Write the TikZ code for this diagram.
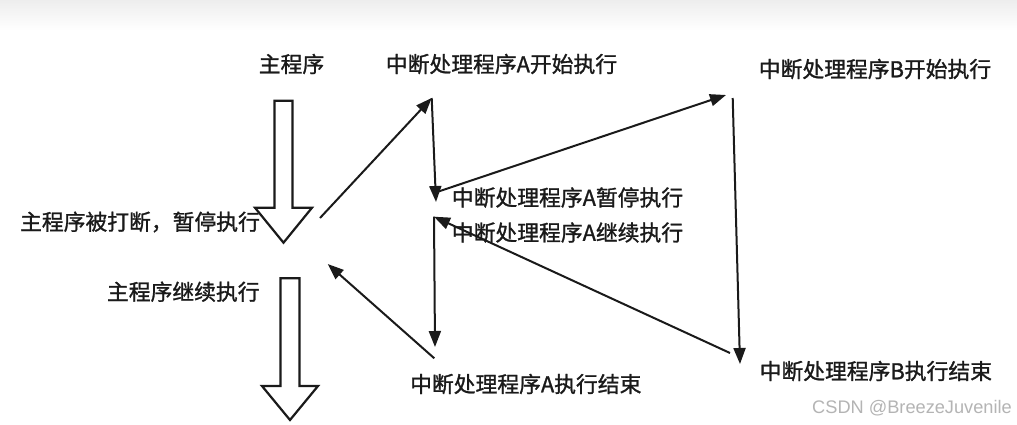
\documentclass[tikz,border=0pt]{standalone}
\usepackage{fontspec}
\setmainfont{Noto Sans CJK SC}[FakeBold=1.2]
\newfontfamily\wmfont{Liberation Sans}
\usetikzlibrary{arrows.meta}
\definecolor{txt}{HTML}{1A1A1A}
\definecolor{wmgray}{HTML}{B4B4B4}
\begin{document}
\begin{tikzpicture}[x=1pt,y=-1pt,
  lbl/.style={inner sep=0pt, anchor=center, font=\fontsize{21.8}{24}\selectfont, text=txt},
  conn/.style={line width=2pt, draw=txt, -{Triangle[length=16pt,width=12pt]}},
  blockarrow/.style={line width=2.2pt, draw=txt, fill=white, line join=miter}]
\useasboundingbox (0,0) rectangle (1017,424);
\fill[white] (0,0) rectangle (1017,424);
\shade[top color=black!7, bottom color=white] (0,0) rectangle (1017,30);
% labels
\node[lbl] (main) at (291.5,64) {主程序};
\node[lbl] (aStart) at (501.5,64) {中断处理程序A开始执行};
\node[lbl] (bStart) at (875,69) {中断处理程序B开始执行};
\node[lbl] (mainInt) at (140,222) {主程序被打断，暂停执行};
\node[lbl] (mainCont) at (183.3,291.7) {主程序继续执行};
\node[lbl] (aPause) at (567.5,197.5) {中断处理程序A暂停执行};
\node[lbl] (aCont) at (567.5,232.5) {中断处理程序A继续执行};
\node[lbl] (aEnd) at (525.8,384) {中断处理程序A执行结束};
\node[lbl] (bEnd) at (875.8,371) {中断处理程序B执行结束};
\node[inner sep=0pt, font=\wmfont\fontsize{18.2}{20}\selectfont, text=wmgray] (wm) at (912,408) {CSDN @BreezeJuvenile};
% block arrows
\draw[blockarrow] (274.5,100.7) -- (292.5,100.7) -- (292.5,207.7) -- (312,207.7) -- (283.5,242.7) -- (255,207.7) -- (274.5,207.7) -- cycle;
\draw[blockarrow] (280.5,278.3) -- (299.5,278.3) -- (299.5,386) -- (318,386) -- (290,420) -- (262,386) -- (280.5,386) -- cycle;
% connector end points
\coordinate (p1) at (320,218);
\coordinate (aTop) at (431.7,98);
\coordinate (aMid) at (436,202);
\coordinate (aMidS) at (437,192);
\coordinate (bTop) at (726,95);
\coordinate (bTopS) at (732.7,98);
\coordinate (bBot) at (740,364);
\coordinate (bBotS) at (730,353);
\coordinate (aUp) at (434,216.7);
\coordinate (aLow) at (435,347);
\coordinate (aLowS) at (434.3,358.3);
\coordinate (p2) at (327.7,264);
% connectors
\draw[conn] (p1) -- (aTop);
\draw[conn] (aTop) -- (aMid);
\draw[conn] (aMidS) -- (bTop);
\draw[conn] (bTopS) -- (bBot);
\draw[conn] (bBotS) -- (aUp);
\draw[conn] (aUp) -- (aLow);
\draw[conn] (aLowS) -- (p2);
\end{tikzpicture}
\end{document}
